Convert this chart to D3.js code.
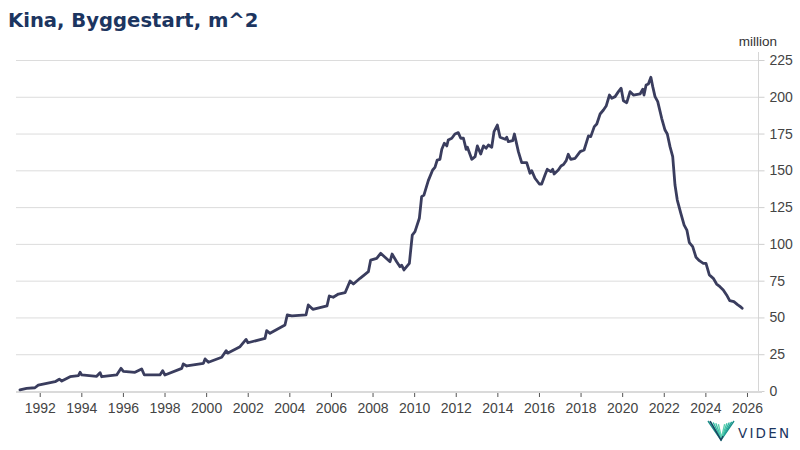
<!DOCTYPE html>
<html>
<head>
<meta charset="utf-8">
<script src="https://cdn.jsdelivr.net/npm/d3@7"></script>
<style>
  html, body { margin: 0; padding: 0; background: #ffffff; }
  svg { display: block; }
</style>
</head>
<body>
<svg id="chart" width="800" height="450"></svg>
<script>
// ============================================================
// Data (decimal year, million m^2)
// ============================================================
const years = [
  1991.05, 1991.37, 1991.77, 1991.93, 1992.74, 1992.94, 1993.06, 1993.46, 1993.86, 1993.94,
  1994.02, 1994.74, 1994.90, 1994.98, 1995.70, 1995.91, 1996.02, 1996.58, 1996.90, 1997.03,
  1997.78, 1997.91, 1998.02, 1998.83, 1998.90, 1999.07, 1999.87, 1999.95, 2000.11, 2000.75,
  2000.96, 2001.05, 2001.63, 2001.92, 2002.01, 2002.83, 2002.91, 2003.07, 2003.79, 2003.90,
  2004.12, 2004.80, 2004.91, 2005.13, 2005.81, 2005.92, 2006.11, 2006.36, 2006.68, 2006.92,
  2007.08, 2007.40, 2007.80, 2007.91, 2008.20, 2008.39, 2008.60, 2008.84, 2008.94, 2009.16,
  2009.32, 2009.40, 2009.51, 2009.77, 2009.91, 2010.04, 2010.25, 2010.36, 2010.47, 2010.68,
  2010.89, 2011.00, 2011.11, 2011.24, 2011.33, 2011.45, 2011.57, 2011.64, 2011.81, 2011.96,
  2012.12, 2012.24, 2012.37, 2012.50, 2012.56, 2012.77, 2012.93, 2013.04, 2013.20, 2013.33,
  2013.46, 2013.57, 2013.73, 2013.84, 2014.00, 2014.13, 2014.38, 2014.45, 2014.53, 2014.74,
  2014.82, 2015.01, 2015.17, 2015.41, 2015.57, 2015.65, 2015.81, 2016.02, 2016.13, 2016.29,
  2016.40, 2016.57, 2016.66, 2016.73, 2016.93, 2017.06, 2017.18, 2017.31, 2017.41, 2017.53,
  2017.74, 2017.98, 2018.17, 2018.38, 2018.49, 2018.66, 2018.78, 2018.94, 2019.10, 2019.23,
  2019.39, 2019.50, 2019.66, 2019.82, 2019.95, 2020.06, 2020.22, 2020.38, 2020.54, 2020.86,
  2020.99, 2021.05, 2021.15, 2021.26, 2021.38, 2021.47, 2021.58, 2021.71, 2021.90, 2022.06,
  2022.17, 2022.30, 2022.43, 2022.54, 2022.65, 2022.82, 2022.98, 2023.11, 2023.23, 2023.39,
  2023.55, 2023.71, 2023.90, 2024.03, 2024.19, 2024.38, 2024.54, 2024.70, 2024.86, 2025.02,
  2025.17, 2025.37, 2025.56, 2025.69, 2025.77
];

const starts = [
  0.8, 1.8, 2.2, 4.0, 6.3, 8.0, 6.8, 9.7, 10.4, 12.7,
  10.9, 10.0, 12.5, 9.7, 10.9, 15.4, 13.4, 12.7, 15.0, 10.9,
  10.9, 13.8, 10.9, 15.4, 18.4, 17.0, 18.8, 21.8, 19.5, 22.9,
  27.4, 25.8, 30.1, 35.1, 32.8, 35.8, 41.0, 39.2, 44.9, 51.7,
  51.0, 51.7, 58.5, 55.5, 57.8, 64.6, 63.7, 65.9, 66.8, 74.8,
  72.7, 76.6, 81.1, 89.0, 90.2, 93.6, 90.9, 87.9, 93.1, 87.9,
  84.5, 85.5, 82.3, 86.8, 106.0, 108.3, 117.4, 132.1, 133.2, 143.0,
  150.2, 152.0, 157.0, 157.5, 164.3, 168.4, 166.6, 170.6, 171.8, 174.7,
  175.6, 171.8, 171.8, 164.3, 165.7, 157.5, 159.3, 166.6, 161.1, 166.6,
  165.0, 167.2, 165.7, 176.3, 180.8, 172.5, 171.1, 172.5, 169.5, 170.2,
  174.7, 162.7, 155.2, 155.2, 148.0, 149.8, 144.6, 140.7, 140.7, 146.8,
  150.7, 149.1, 150.7, 147.5, 150.2, 153.0, 154.0, 156.6, 160.9, 157.5,
  158.2, 162.7, 163.8, 173.4, 172.9, 179.7, 181.5, 188.3, 191.0, 193.7,
  201.2, 199.0, 200.1, 203.5, 205.8, 197.3, 196.0, 203.5, 201.2, 201.9,
  205.1, 201.2, 208.0, 208.7, 213.3, 206.9, 200.1, 196.7, 185.4, 177.4,
  174.7, 166.1, 159.3, 140.0, 129.8, 120.8, 112.8, 109.4, 100.8, 98.1,
  90.9, 88.6, 86.8, 86.8, 78.9, 76.6, 72.7, 70.9, 68.7, 65.3,
  61.4, 60.7, 58.5, 57.3, 56.2
];

const xTicks = [1992, 1994, 1996, 1998, 2000, 2002, 2004, 2006, 2008, 2010,
                2012, 2014, 2016, 2018, 2020, 2022, 2024, 2026];
const yTicks = [0, 25, 50, 75, 100, 125, 150, 175, 200, 225];

const titleText = "Kina, Byggestart, m^2";
const unitText = "million";

// ============================================================
// Layout
// ============================================================
const plot = { left: 16, right: 758, top: 60, bottom: 391 };
const svg = d3.select("#chart");

const x = d3.scaleLinear()
    .domain([1990.86, 2026.53])
    .range([plot.left, plot.right]);

const y = d3.scaleLinear()
    .domain([0, 225])
    .range([plot.bottom, plot.top]);

// Title
svg.append("text")
    .attr("x", 8)
    .attr("y", 27)
    .attr("font-family", "DejaVu Sans, Verdana, sans-serif")
    .attr("font-weight", "bold")
    .attr("font-size", 19.6)
    .attr("fill", "#1c3560")
    .text(titleText);

// Unit label above the right axis
svg.append("text")
    .attr("x", 777)
    .attr("y", 46)
    .attr("text-anchor", "end")
    .attr("font-family", "Liberation Sans, Arial, sans-serif")
    .attr("font-size", 13.5)
    .attr("fill", "#333")
    .text(unitText);

// Horizontal gridlines
svg.append("g")
    .selectAll("line")
    .data(yTicks.filter(d => d > 0))
    .enter()
    .append("line")
    .attr("x1", plot.left)
    .attr("x2", plot.right)
    .attr("y1", d => y(d) + 0.5)
    .attr("y2", d => y(d) + 0.5)
    .attr("stroke", "#dcdcdc")
    .attr("stroke-width", 1);

// Right axis
const yAxis = d3.axisRight(y)
    .tickValues(yTicks)
    .tickSize(6)
    .tickPadding(5)
    .tickFormat(d3.format("d"));

const yG = svg.append("g")
    .attr("transform", `translate(${plot.right + 0.5},0)`)
    .call(yAxis);
yG.select(".domain")
    .attr("d", `M0,${plot.top - 8}V${plot.bottom}`)
    .attr("stroke", "#d6d6d6");
yG.selectAll(".tick line").attr("stroke", "#cfcfcf");
yG.selectAll(".tick text")
    .attr("font-family", "Liberation Sans, Arial, sans-serif")
    .attr("font-size", 14)
    .attr("fill", "#444");

// Bottom axis
const xAxis = d3.axisBottom(x)
    .tickValues(xTicks)
    .tickSize(5)
    .tickPadding(6)
    .tickFormat(d3.format("d"));

const xG = svg.append("g")
    .attr("transform", `translate(0,${plot.bottom + 1})`)
    .call(xAxis);
xG.select(".domain").remove();
xG.selectAll(".tick line").attr("stroke", "#555");
xG.selectAll(".tick text")
    .attr("font-family", "Liberation Sans, Arial, sans-serif")
    .attr("font-size", 14)
    .attr("fill", "#444");

svg.append("line")
    .attr("x1", plot.left)
    .attr("x2", plot.right + 4)
    .attr("y1", plot.bottom + 1)
    .attr("y2", plot.bottom + 1)
    .attr("stroke", "#dadada")
    .attr("stroke-width", 2);

// The series line
const series = years.map((yr, i) => ({ year: yr, value: starts[i] }));
const line = d3.line()
    .x(d => x(d.year))
    .y(d => y(d.value));

svg.append("path")
    .datum(series)
    .attr("d", line)
    .attr("fill", "none")
    .attr("stroke", "#3a3d5e")
    .attr("stroke-width", 2.8)
    .attr("stroke-linejoin", "round")
    .attr("stroke-linecap", "round");

// Logo: striped triangle + wordmark
const logo = svg.append("g").attr("transform", "translate(708,421)");
const stripeColors = ["#1d8f8a", "#25a396", "#2fb5a0", "#44c3a8", "#5fcfb0"];
[0, 1, 2, 3, 4].forEach(function (i) {
    const o = i * 2.6;
    logo.append("path")
        .attr("d", `M${o},${o * 0.3} L${13 + o * 0.05},${19 - o * 0.2} L${26 - o * 0.9},${o * 0.3}`)
        .attr("fill", "none")
        .attr("stroke", stripeColors[i])
        .attr("stroke-width", 1.4);
});
logo.append("path")
    .attr("d", "M2,0 L13,19 L15,15")
    .attr("fill", "none")
    .attr("stroke", "#1c3f5e")
    .attr("stroke-width", 1.4);

svg.append("text")
    .attr("x", 738)
    .attr("y", 438)
    .attr("font-family", "DejaVu Sans, Verdana, sans-serif")
    .attr("font-size", 13.5)
    .attr("letter-spacing", 2.2)
    .attr("fill", "#1c3560")
    .text("VIDEN");
</script>
</body>
</html>
